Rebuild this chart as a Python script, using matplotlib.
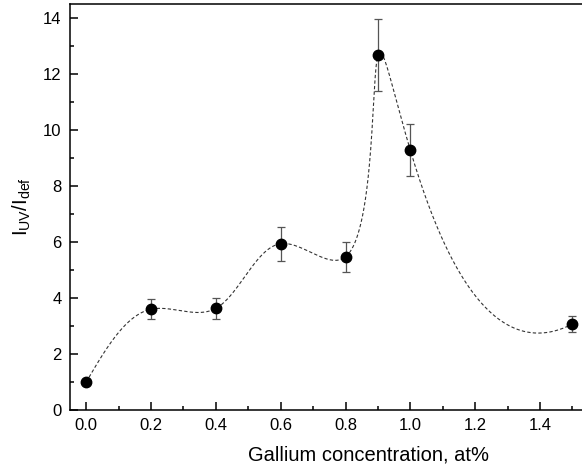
import matplotlib
matplotlib.use("Agg")
import matplotlib.pyplot as plt
from matplotlib.ticker import MultipleLocator
import numpy as np

plt.rcParams['font.family'] = ['Liberation Sans', 'DejaVu Sans']
plt.rcParams['mathtext.fontset'] = 'custom'
plt.rcParams['mathtext.rm'] = 'Liberation Sans'
plt.rcParams['mathtext.it'] = 'Liberation Sans'

# data
ga_conc = [0.0, 0.2, 0.4, 0.6, 0.8, 0.9, 1.0, 1.5]
ratio = [1.0, 3.6, 3.63, 5.94, 5.47, 12.68, 9.28, 3.07]
ratio_err = [0.0, 0.36, 0.37, 0.6, 0.54, 1.27, 0.93, 0.3]
x_ticks = [0.0, 0.2, 0.4, 0.6, 0.8, 1.0, 1.2, 1.4]


def spline(t, v, ts):
    # cubic spline, natural at the start, not-a-knot at the end
    n = len(t)
    h = np.diff(t)
    A = np.zeros((n, n))
    b = np.zeros(n)
    A[0, 0] = 1
    A[-1, -3] = h[-1]
    A[-1, -2] = -(h[-2] + h[-1])
    A[-1, -1] = h[-2]
    for i in range(1, n - 1):
        A[i, i - 1] = h[i - 1]
        A[i, i] = 2 * (h[i - 1] + h[i])
        A[i, i + 1] = h[i]
        b[i] = 6 * ((v[i + 1] - v[i]) / h[i] - (v[i] - v[i - 1]) / h[i - 1])
    m = np.linalg.solve(A, b)
    idx = np.clip(np.searchsorted(t, ts) - 1, 0, n - 2)
    t0, t1 = t[idx], t[idx + 1]
    hh = t1 - t0
    a = t1 - ts
    c = ts - t0
    return (m[idx] * a ** 3 / (6 * hh) + m[idx + 1] * c ** 3 / (6 * hh)
            + (v[idx] / hh - m[idx] * hh / 6) * a
            + (v[idx + 1] / hh - m[idx + 1] * hh / 6) * c)


# smooth guide line: parametric (centripetal) spline in screen units
sx = np.array(ga_conc) * 324.3
sy = np.array(ratio) * 28.0
t = np.concatenate([[0], np.cumsum(np.hypot(np.diff(sx), np.diff(sy)) ** 0.5)])
ts = np.linspace(0, t[-1], 2000)
curve_x = spline(t, sx, ts) / 324.3
curve_y = spline(t, sy, ts) / 28.0

fig = plt.figure(figsize=(5.82, 4.72), dpi=100)
ax = fig.add_axes([70 / 582, 1 - 410 / 472, (668 - 70) / 582, (410 - 3.5) / 472])

ax.plot(curve_x, curve_y, color='#333333', lw=0.8, dashes=(3, 2))
ax.errorbar(ga_conc, ratio, yerr=ratio_err, fmt='o', color='black',
            ms=7.5, ecolor='#555555', elinewidth=0.9, capsize=2.8,
            capthick=0.9, zorder=3)

ax.set_xlim(-0.05, 1.795)
ax.set_ylim(0, 14.52)
ax.set_xticks(x_ticks)
ax.set_xticklabels([f'{v:.1f}' for v in x_ticks])
ax.xaxis.set_minor_locator(MultipleLocator(0.1))
ax.yaxis.set_major_locator(MultipleLocator(2))
ax.yaxis.set_minor_locator(MultipleLocator(1))
ax.tick_params(which='both', direction='in', top=False, right=False,
               labelsize=12, width=1.1)
ax.tick_params(which='major', length=6)
ax.tick_params(axis='x', which='major', pad=6)
ax.tick_params(axis='y', which='major', pad=6)
ax.tick_params(which='minor', length=3)

for side in ['left', 'bottom', 'top']:
    ax.spines[side].set_linewidth(1.1)
ax.spines['right'].set_visible(False)

ax.set_xlabel('Gallium concentration, at%', fontsize=14.5, labelpad=9)
ax.set_ylabel(r'I$_{\mathrm{UV}}$/I$_{\mathrm{def}}$', fontsize=14.5, labelpad=7)

fig.savefig('out.png', dpi=100)
